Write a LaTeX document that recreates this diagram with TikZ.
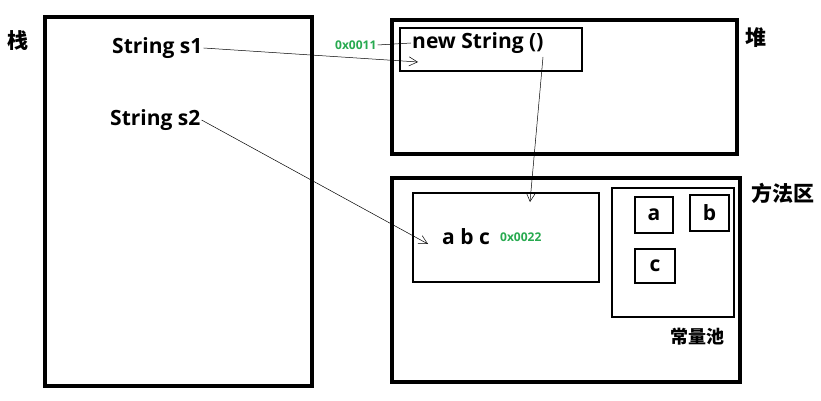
\documentclass[tikz,border=0pt]{standalone}
\usepackage{fontspec}
\setmainfont{Open Sans}
\newfontfamily\cjk{Noto Sans CJK SC}
\usetikzlibrary{arrows.meta, positioning}
\definecolor{addrgreen}{RGB}{40,170,80}

\begin{document}
\begin{tikzpicture}[
  x=1pt, y=-1pt,
  area/.style={draw, line width=4pt, inner sep=0pt},
  inbox/.style={draw, line width=2.6pt, inner sep=0pt},
  var/.style={font=\bfseries\fontsize{21}{23}\selectfont, inner sep=1pt, anchor=west},
  zone/.style={font=\cjk\bfseries\fontsize{21}{23}\selectfont, inner sep=0pt},
  addr/.style={font=\bfseries\fontsize{12}{14}\selectfont, text=addrgreen, inner sep=1pt, anchor=west},
  lit/.style={inbox, font=\bfseries\fontsize{21}{23}\selectfont},
  ref/.style={-{Straight Barb[length=3mm, width=3.2mm]}, line width=0.5pt}
]
\useasboundingbox (0,0) rectangle (821,401);

% stack
\node[area, minimum width=267pt, minimum height=369pt] (stack) at (178.5,201.5) {};
\node[zone] (stacklbl) at (17.5,41) {栈};
\node[var] (s1) at (111,48) {String s1};
\node[var] (s2) at (109,120) {String s2};

% heap
\node[area, minimum width=345pt, minimum height=134pt] (heap) at (564.5,87) {};
\node[zone] (heaplbl) at (755.5,37.5) {堆};
\node[inbox, minimum width=182pt, minimum height=43pt] (obj) at (491,49.5) {};
\node[var] (newtxt) at (411,43) {new String ()};
\node[addr] (addr1) at (334,45) {0x0011};

% method area
\node[area, minimum width=348pt, minimum height=204pt] (method) at (566,280) {};
\node[zone] (methodlbl) at (783,193.5) {方法区};
\node[inbox, minimum width=186pt, minimum height=89pt] (strobj) at (506,237.5) {};
\node[var] (abc) at (441,237) {a b c};
\node[addr] (addr2) at (499,237) {0x0022};
\node[inbox, minimum width=122pt, minimum height=129pt] (pool) at (673,252.5) {};
\node[lit, minimum width=38pt, minimum height=36pt] (ca) at (654,215) {a};
\node[lit, minimum width=39pt, minimum height=36pt] (cb) at (709.5,213) {b};
\node[lit, minimum width=40pt, minimum height=34pt] (cc) at (655,266) {c};
\node[font=\cjk\bfseries\fontsize{18}{20}\selectfont] (poollbl) at (697,336.5) {常量池};

\coordinate (t1) at (418,62);
\coordinate (t2) at (428,244);
\coordinate (t3) at (530,202);
\coordinate (f3) at (543,57);

\draw[line width=0.5pt] (addr1.east) -- (newtxt.west);
\draw[ref] (s1.east) -- (t1);
\draw[ref] (s2.east) -- (t2);
\draw[ref] (f3) -- (t3);
\end{tikzpicture}
\end{document}
